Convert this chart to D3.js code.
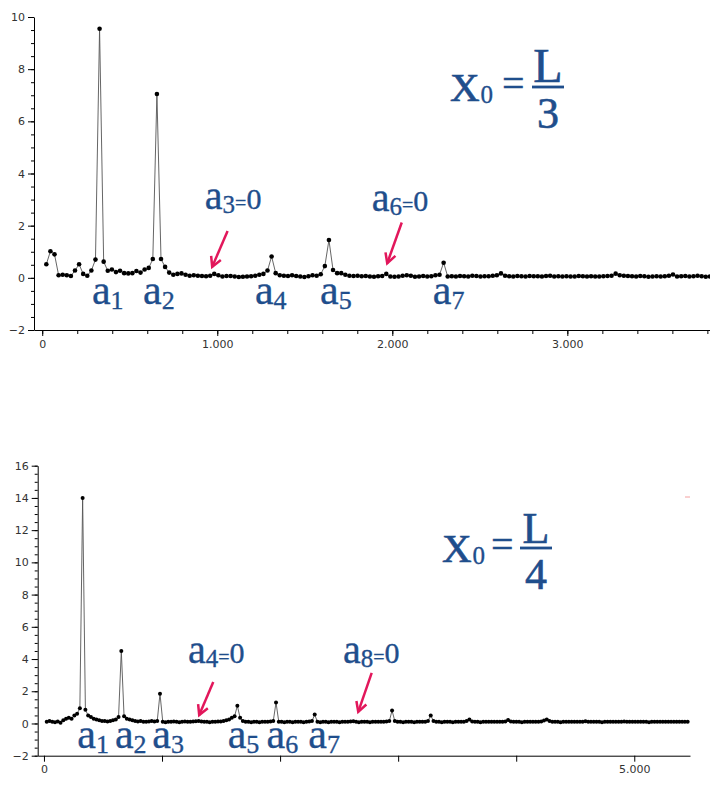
<!DOCTYPE html>
<html>
<head>
<meta charset="utf-8">
<script src="https://cdn.jsdelivr.net/npm/d3@7"></script>
<style>
  body { margin: 0; background: #fff; }
  svg { display: block; }
</style>
</head>
<body>
<div id="chart"></div>
<script>
// sample spacing of the spectrum (same for both panels)
const freqStep = 23.4;

// x0 = L/3 : amplitude of sample k = 1..163
const ampThird = [
  0.52, 1.02, 0.90, 0.10, 0.12, 0.10, 0.07, 0.28, 0.52, 0.15,
  0.08, 0.28, 0.70, 9.55, 0.62, 0.27, 0.32, 0.22, 0.27, 0.18,
  0.17, 0.18, 0.26, 0.20, 0.32, 0.38, 0.72, 7.05, 0.72, 0.42,
  0.20, 0.12, 0.15, 0.17, 0.12, 0.08, 0.10, 0.08, 0.07, 0.06,
  0.08, 0.15, 0.10, 0.05, 0.07, 0.07, 0.05, 0.03, 0.04, 0.05,
  0.06, 0.08, 0.12, 0.15, 0.28, 0.82, 0.18, 0.10, 0.08, 0.07,
  0.10, 0.07, 0.05, 0.03, 0.06, 0.10, 0.08, 0.14, 0.45, 1.45,
  0.30, 0.18, 0.18, 0.12, 0.08, 0.07, 0.08, 0.06, 0.07, 0.05,
  0.04, 0.06, 0.07, 0.15, 0.05, 0.04, 0.05, 0.08, 0.10, 0.08,
  0.04, 0.05, 0.07, 0.05, 0.06, 0.10, 0.12, 0.58, 0.05, 0.06,
  0.05, 0.07, 0.06, 0.05, 0.08, 0.07, 0.05, 0.06, 0.06, 0.08,
  0.10, 0.17, 0.08, 0.06, 0.05, 0.07, 0.06, 0.05, 0.07, 0.06,
  0.06, 0.05, 0.07, 0.08, 0.05, 0.06, 0.05, 0.06, 0.05, 0.05,
  0.07, 0.06, 0.05, 0.06, 0.05, 0.05, 0.06, 0.07, 0.08, 0.16,
  0.10, 0.08, 0.07, 0.06, 0.05, 0.07, 0.06, 0.04, 0.05, 0.06,
  0.05, 0.06, 0.08, 0.13, 0.05, 0.06, 0.07, 0.05, 0.06, 0.08,
  0.06, 0.04, 0.05
];

// x0 = L/4 : amplitude of sample k = 1..233
const ampQuarter = [
  0.10, 0.15, 0.10, 0.08, 0.12, 0.05, 0.20, 0.30, 0.35, 0.30,
  0.50, 0.60, 0.95, 14.0, 0.85, 0.50, 0.40, 0.30, 0.25, 0.20,
  0.15, 0.15, 0.12, 0.15, 0.20, 0.25, 0.40, 4.50, 0.45, 0.30,
  0.25, 0.20, 0.15, 0.12, 0.15, 0.10, 0.10, 0.12, 0.15, 0.12,
  0.15, 1.85, 0.10, 0.08, 0.10, 0.10, 0.12, 0.10, 0.08, 0.10,
  0.12, 0.10, 0.10, 0.12, 0.14, 0.16, 0.12, 0.10, 0.10, 0.08,
  0.10, 0.10, 0.12, 0.12, 0.15, 0.20, 0.25, 0.35, 0.45, 1.10,
  0.35, 0.15, 0.10, 0.10, 0.08, 0.10, 0.10, 0.08, 0.10, 0.10,
  0.10, 0.12, 0.15, 1.30, 0.10, 0.10, 0.08, 0.10, 0.10, 0.08,
  0.10, 0.10, 0.10, 0.08, 0.10, 0.12, 0.15, 0.55, 0.10, 0.08,
  0.10, 0.10, 0.08, 0.10, 0.10, 0.10, 0.08, 0.10, 0.10, 0.10,
  0.12, 0.14, 0.10, 0.08, 0.10, 0.10, 0.10, 0.08, 0.10, 0.10,
  0.10, 0.10, 0.10, 0.12, 0.15, 0.80, 0.15, 0.10, 0.10, 0.08,
  0.10, 0.10, 0.10, 0.08, 0.10, 0.10, 0.10, 0.10, 0.15, 0.50,
  0.15, 0.10, 0.10, 0.08, 0.10, 0.10, 0.10, 0.08, 0.10, 0.10,
  0.10, 0.10, 0.15, 0.25, 0.12, 0.10, 0.10, 0.08, 0.10, 0.10,
  0.10, 0.10, 0.10, 0.10, 0.10, 0.10, 0.12, 0.22, 0.12, 0.10,
  0.10, 0.10, 0.08, 0.10, 0.10, 0.10, 0.10, 0.10, 0.10, 0.12,
  0.18, 0.25, 0.15, 0.10, 0.10, 0.10, 0.08, 0.10, 0.10, 0.10,
  0.10, 0.10, 0.10, 0.10, 0.10, 0.14, 0.10, 0.10, 0.10, 0.10,
  0.10, 0.08, 0.10, 0.10, 0.10, 0.10, 0.10, 0.10, 0.10, 0.12,
  0.10, 0.10, 0.10, 0.10, 0.10, 0.10, 0.10, 0.10, 0.08, 0.10,
  0.10, 0.10, 0.10, 0.10, 0.10, 0.10, 0.10, 0.10, 0.10, 0.10,
  0.10, 0.10, 0.10
];

// axis ticks
const yTicksThird = [-2, 0, 2, 4, 6, 8, 10];
const xTicksThird = [0, 1000, 2000, 3000];
const yTicksQuarter = [-2, 0, 2, 4, 6, 8, 10, 12, 14, 16];
const xTicksQuarter = [0, 1000, 2000, 3000, 4000, 5000];
const xLabelsQuarter = [0, 5000];

// harmonic labels: [harmonic number, label x (data), label y (data)]
const labelsThird = [[1, 284, -1.0], [2, 576, -1.0], [4, 1215, -1.0], [5, 1587, -1.0], [7, 2231, -1.0]];
// vanishing harmonics: [n, label x, label y, arrow x1, y1, x2, y2]
const zerosThird = [[3, 929, 2.62, 1059, 1.80, 971, 0.42], [6, 1882, 2.57, 2054, 2.12, 1971, 0.56]];
const labelsQuarter = [[1, 282, -1.53], [2, 601, -1.53], [3, 917, -1.53], [5, 1556, -1.53], [6, 1886, -1.53], [7, 2239, -1.53]];
const zerosQuarter = [[4, 1220, 3.75, 1434, 2.58, 1315, 0.52], [8, 2533, 3.75, 2776, 3.14, 2662, 0.72]];

const blue = '#1f4e8c';
const red = '#e2175b';
const serif = '"Liberation Serif", "DejaVu Serif", serif';
const dotFmt = d3.formatLocale({ decimal: ',', thousands: '.', grouping: [3], currency: ['', ''] }).format(',');

const svg = d3.select('#chart').append('svg')
  .attr('width', 710).attr('height', 790);

// blue serif text, slightly thickened
function blueText(g, x, y, size, sw = 0.35) {
  return g.append('text').attr('x', x).attr('y', y)
    .attr('fill', blue).attr('stroke', blue).attr('stroke-width', sw)
    .style('font-family', serif).style('font-size', size + 'px');
}

function drawPanel(o) {
  const g = svg.append('g');
  const x = d3.scaleLinear().domain(o.xDomain).range(o.xRange);
  const y = d3.scaleLinear().domain(o.yDomain).range(o.yRange);

  // y axis: minor ticks every 0.5, labelled every 2
  const yMinor = d3.range(o.yDomain[0], o.yDomain[1] + 0.01, 0.5);
  g.append('g').attr('transform', `translate(${o.xRange[0]},0)`)
    .call(d3.axisLeft(y).tickValues(yMinor).tickSize(3).tickFormat(''))
    .call(a => a.select('.domain').remove());
  g.append('g').attr('transform', `translate(${o.xRange[0]},0)`)
    .call(d3.axisLeft(y).tickValues(o.yTicks).tickSize(6).tickSizeOuter(0).tickPadding(3))
    .call(a => a.selectAll('text').attr('fill', '#333').style('font', '11px "DejaVu Sans", sans-serif'));

  // x axis
  if (o.xMinor) {
    g.append('g').attr('transform', `translate(0,${o.yRange[0]})`)
      .call(d3.axisBottom(x).tickValues(o.xMinor).tickSize(4).tickFormat(''))
      .call(a => a.select('.domain').remove());
  }
  g.append('g').attr('transform', `translate(0,${o.yRange[0]})`)
    .call(d3.axisBottom(x).tickValues(o.xTicks).tickSize(6).tickSizeOuter(0).tickPadding(4)
      .tickFormat(d => o.xLabels.includes(d) ? dotFmt(d) : ''))
    .call(a => a.selectAll('text').attr('fill', '#333').style('font', '11px "DejaVu Sans", sans-serif'));

  const pts = o.values.map((v, i) => ({ f: (i + 1) * freqStep, v }));
  const line = d3.line().x(d => x(d.f)).y(d => y(d.v));
  g.append('path').datum(pts)
    .attr('d', line).attr('fill', 'none').attr('stroke', '#555').attr('stroke-width', 0.9);
  g.selectAll('circle.pt').data(pts).join('circle')
    .attr('class', 'pt')
    .attr('cx', d => x(d.f)).attr('cy', d => y(d.v)).attr('r', o.dotR).attr('fill', '#000');

  // harmonic labels a_n
  o.labels.forEach(([n, lx, ly]) => {
    const t = blueText(g, x(lx), y(ly), 42);
    t.append('tspan').text('a');
    t.append('tspan').attr('dy', 5).style('font-size', '26px').text(n);
  });

  // vanishing harmonics with arrows
  o.zeros.forEach(([n, lx, ly, ax1, ay1, ax2, ay2]) => {
    const t = blueText(g, x(lx), y(ly), 40);
    t.append('tspan').text('a');
    t.append('tspan').attr('dy', 4).style('font-size', '25px').text(n);
    t.append('tspan').attr('dy', -3).style('font-size', '20px').text('=');
    t.append('tspan').attr('dy', -1).style('font-size', '30px').text('0');

    const x1 = x(ax1), y1 = y(ay1), x2 = x(ax2), y2 = y(ay2);
    const ang = Math.atan2(y2 - y1, x2 - x1);
    const hl = 11, spread = 0.5;
    g.append('line').attr('x1', x1).attr('y1', y1).attr('x2', x2).attr('y2', y2)
      .attr('stroke', red).attr('stroke-width', 2.5);
    g.append('path')
      .attr('d', `M${x2 - hl * Math.cos(ang - spread)},${y2 - hl * Math.sin(ang - spread)}L${x2},${y2}L${x2 - hl * Math.cos(ang + spread)},${y2 - hl * Math.sin(ang + spread)}`)
      .attr('fill', 'none').attr('stroke', red).attr('stroke-width', 2.5).attr('stroke-linejoin', 'miter');
  });

  // title x0 = L / n
  const tt = o.title;
  const tx = blueText(g, tt.x, tt.y, 41, 0.7);
  tx.append('tspan').text('X');
  tx.append('tspan').attr('dy', 2).attr('dx', 1).style('font-size', '25px').attr('stroke-width', 0.35).text('0');
  blueText(g, tt.eqX, tt.y - 4, 40).text('=');
  blueText(g, tt.fracX, tt.barY - 5, tt.lSize, 0.6).attr('text-anchor', 'middle').text('L');
  g.append('line').attr('x1', tt.fracX - 16).attr('x2', tt.fracX + 16)
    .attr('y1', tt.barY).attr('y2', tt.barY).attr('stroke', blue).attr('stroke-width', 2.8);
  blueText(g, tt.fracX, tt.barY + 41, 44, 0.6).attr('text-anchor', 'middle').text(tt.den);
}

drawPanel({
  values: ampThird,
  xDomain: [-47, 3815], xRange: [34, 710],
  yDomain: [-2, 10], yRange: [330, 17],
  yTicks: yTicksThird, xTicks: xTicksThird, xLabels: xTicksThird,
  xMinor: d3.range(0, 3801, 200),
  dotR: 2.3,
  labels: labelsThird, zeros: zerosThird,
  title: { x: 450, y: 101, eqX: 502, fracX: 548, barY: 87, den: '3', lSize: 48 }
});

drawPanel({
  values: ampQuarter,
  xDomain: [-53, 5472], xRange: [37.7, 690],
  yDomain: [-2, 16], yRange: [755.7, 465.7],
  yTicks: yTicksQuarter, xTicks: xTicksQuarter, xLabels: xLabelsQuarter,
  xMinor: null,
  dotR: 2.0,
  labels: labelsQuarter, zeros: zerosQuarter,
  title: { x: 442, y: 562, eqX: 491, fracX: 536, barY: 548, den: '4', lSize: 44 }
});

// faint stray mark at the right of the lower panel
svg.append('line').attr('x1', 685).attr('x2', 690).attr('y1', 497).attr('y2', 497)
  .attr('stroke', '#f4a0a0').attr('stroke-width', 1);
</script>
</body>
</html>
